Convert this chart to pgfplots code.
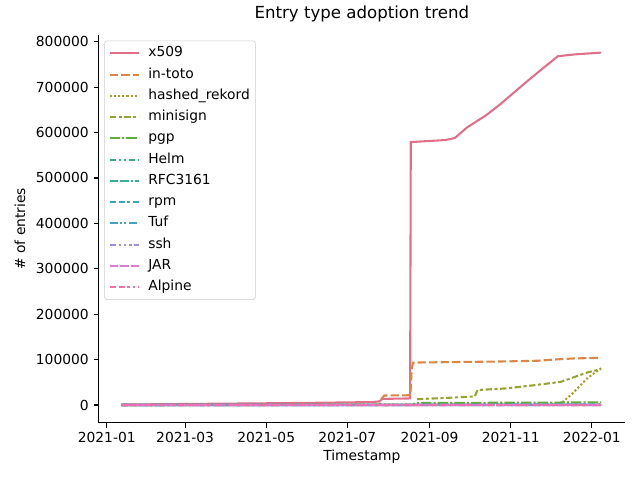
\documentclass[border=0pt]{standalone}
\usepackage{pgfplots}
\pgfplotsset{compat=1.18}
\usepackage{fontspec}
\setmainfont{DejaVu Sans}
\definecolor{cx509}{HTML}{E0708A}
\definecolor{cintoto}{HTML}{DD8544}
\definecolor{chashed}{HTML}{AE9D31}
\definecolor{cminisign}{HTML}{97A431}
\definecolor{cpgp}{HTML}{5FAE3B}
\definecolor{chelm}{HTML}{36AD7F}
\definecolor{crfc}{HTML}{37AB9E}
\definecolor{crpm}{HTML}{38A8B5}
\definecolor{ctuf}{HTML}{3FA3C6}
\definecolor{cssh}{HTML}{A08CE0}
\definecolor{cjar}{HTML}{DC7AD4}
\definecolor{calpine}{HTML}{EE6FAA}
\begin{document}
\begin{tikzpicture}
\path (-71.1bp,-41.3bp) rectangle (389.7bp,304.3bp);
\begin{axis}[
  at={(0,0)}, anchor=south west,
  scale only axis, width=378.9bp, height=279.1bp,
  xmin=-6, xmax=390, ymin=-38800, ymax=814800,
  axis lines=left, axis line style={-, line width=0.8bp},
  tick align=outside, major tick length=3.5bp,
  tick style={line width=0.8bp, black},
  xtick={0,59,120,181,243,304,365},
  xticklabels={2021-01,2021-03,2021-05,2021-07,2021-09,2021-11,2022-01},
  ytick={0,100000,200000,300000,400000,500000,600000,700000,800000},
  scaled y ticks=false,
  /pgf/number format/assume math mode=true,
  yticklabel style={/pgf/number format/fixed, /pgf/number format/1000 sep={}, inner sep=0pt, xshift=-3.5bp},
  xticklabel style={inner sep=0pt, yshift=-3.5bp},
  tick label style={font=\fontsize{10}{12}\selectfont},
  label style={font=\fontsize{10}{12}\selectfont},
  xlabel={Timestamp},
  ylabel={\# of entries},
  xlabel style={at={(axis description cs:0.5,-0.0885)}, anchor=center},
  ylabel style={at={(axis description cs:-0.1496,0.5)}, anchor=center},
  title={Entry type adoption trend},
  title style={at={(axis description cs:0.5,1)}, anchor=base, yshift=6bp, font=\fontsize{12}{14}\selectfont},
  every axis plot/.append style={line width=1.5bp},
  legend cell align=left,
  legend image code/.code={\draw[#1] (0bp,0bp) -- (21bp,0bp);},
  legend style={at={(0,1)}, anchor=north west, xshift=4bp, yshift=-4bp,
    draw=black!20, fill=white, rounded corners=2bp,
    inner xsep=3bp, inner ysep=3bp, row sep=3.3bp, column sep=5bp,
    font=\fontsize{10}{12}\selectfont,
    nodes={inner sep=1bp, text height=7.6bp, text depth=2.4bp}},
]
\addplot[cx509] coordinates {(11,1000) (40,1800) (80,2800) (120,3800) (160,5000) (200,6500) (205,8000) (207.5,13500) (228.3,14500) (228.8,579000) (255,583500) (262,588000) (271,611000) (285,637000) (296,662000) (306,687000) (316,712000) (328,741000) (339.5,768000) (352,772000) (372,776000)};
\addlegendentry{x509}
\addplot[cintoto, dash pattern=on 6bp off 2.25bp] coordinates {(11,0) (100,0) (205,500) (205.5,1500) (207,15000) (209,21000) (228.5,21500) (229.5,80000) (230.5,93500) (274,95000) (300,96000) (324,97500) (336,100000) (351,102500) (372,104000)};
\addlegendentry{in-toto}
\addplot[chashed, dash pattern=on 1.5bp off 1.5bp] coordinates {(11,0) (341,1500) (350,24000) (362,60000) (372,81000)};
\addlegendentry{hashed\_rekord}
\addplot[cminisign, dash pattern=on 4.5bp off 1.875bp on 2.25bp off 1.875bp] coordinates {(233.5,13000) (255,15500) (277,19000) (279,33000) (300,36500) (320,43000) (341.6,51000) (362,72000) (372,79000)};
\addlegendentry{minisign}
\addplot[cpgp, dash pattern=on 7.5bp off 1.5bp on 1.5bp off 1.5bp] coordinates {(11,0) (230,800) (233,4500) (300,5000) (372,5800)};
\addlegendentry{pgp}
\addplot[chelm, dash pattern=on 4.5bp off 1.875bp on 1.875bp off 1.875bp on 1.875bp off 1.875bp] coordinates {(11,0) (372,300)};
\addlegendentry{Helm}
\addplot[crfc, dash pattern=on 6bp off 1.5bp on 6bp off 1.5bp on 1.5bp off 1.5bp] coordinates {(11,0) (372,100)};
\addlegendentry{RFC3161}
\addplot[crpm, dash pattern=on 4.5bp off 1.875bp on 4.5bp off 1.875bp on 1.875bp off 1.875bp] coordinates {(11,0) (230,0) (233,900) (372,1200)};
\addlegendentry{rpm}
\addplot[ctuf, dash pattern=on 6bp off 1.5bp on 1.5bp off 1.5bp on 1.5bp off 1.5bp] coordinates {(11,0) (372,50)};
\addlegendentry{Tuf}
\addplot[cssh, dash pattern=on 4.5bp off 1.875bp on 1.875bp off 1.875bp on 1.875bp off 1.875bp on 1.875bp off 1.875bp] coordinates {(11,0) (372,200)};
\addlegendentry{ssh}
\addplot[cjar, dash pattern=on 6bp off 1.5bp on 6bp off 1.5bp on 6bp off 1.5bp on 1.5bp off 1.5bp] coordinates {(11,0) (372,100)};
\addlegendentry{JAR}
\addplot[calpine, dash pattern=on 4.5bp off 1.875bp on 4.5bp off 1.875bp on 1.875bp off 1.875bp on 1.875bp off 1.875bp] coordinates {(11,0) (372,30)};
\addlegendentry{Alpine}
\end{axis}
\end{tikzpicture}
\end{document}
